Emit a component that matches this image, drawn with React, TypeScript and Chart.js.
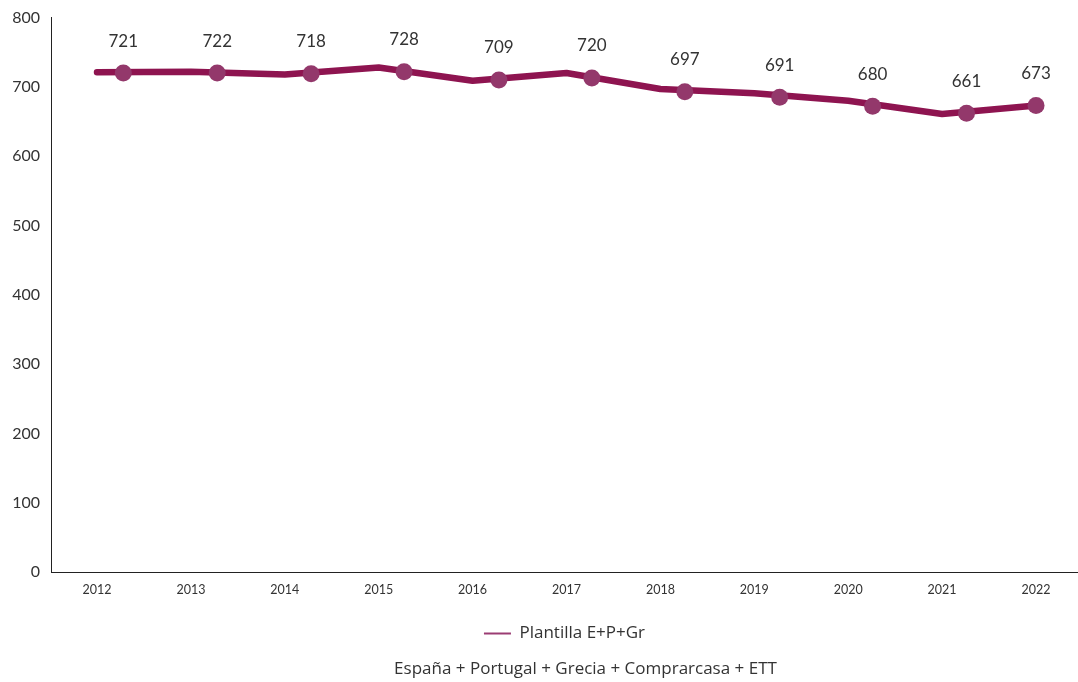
import React, { useEffect, useRef } from "react";
import { Chart, registerables } from "chart.js";

Chart.register(...registerables);

const years = [2012, 2013, 2014, 2015, 2016, 2017, 2018, 2019, 2020, 2021, 2022];
const plantilla = [721, 722, 718, 728, 709, 720, 697, 691, 680, 661, 673];
// marker positions (markers sit slightly right of each year)
const markerX = [2012.28, 2013.28, 2014.28, 2015.27, 2016.28, 2017.27, 2018.26, 2019.27, 2020.26, 2021.26, 2022.0];
const markerY = [720, 720, 719, 722, 710, 713, 693, 685, 672, 662, 673];
const labelValues = [721, 722, 718, 728, 709, 720, 697, 691, 680, 661, 673];
const yTicks = [0, 100, 200, 300, 400, 500, 600, 700, 800];

const seriesName = "Plantilla E+P+Gr";
const subtitle = "España + Portugal + Grecia + Comprarcasa + ETT";

const NUMFONT = "Lato, 'Noto Sans', sans-serif";
const TXTFONT = "'Open Sans', 'Noto Sans', sans-serif";
const TEXT = "#333333";

const labelPlugin = {
  id: "valueLabels",
  afterDatasetsDraw(chart: any) {
    const meta = chart.getDatasetMeta(0);
    const ctx = chart.ctx;
    ctx.save();
    ctx.font = `17px ${NUMFONT}`;
    ctx.fillStyle = TEXT;
    ctx.textAlign = "center";
    ctx.textBaseline = "middle";
    meta.data.forEach((pt: any, i: number) => {
      ctx.fillText(String(labelValues[i]), pt.x, pt.y - 32);
    });
    ctx.restore();
  },
};

const subtitlePlugin = {
  id: "subtitleText",
  afterDraw(chart: any) {
    const ctx = chart.ctx;
    const area = chart.chartArea;
    ctx.save();
    ctx.font = `17px ${TXTFONT}`;
    ctx.fillStyle = TEXT;
    ctx.textAlign = "center";
    ctx.textBaseline = "middle";
    ctx.fillText(subtitle, (area.left + area.right) / 2 + 21, chart.height - 13);
    ctx.restore();
  },
};

export default function App() {
  const ref = useRef<HTMLCanvasElement | null>(null);

  useEffect(() => {
    if (!ref.current) return;
    const chart = new Chart(ref.current, {
      type: "line",
      data: {
        datasets: [
          {
            label: "markers",
            data: markerX.map((x, i) => ({ x, y: markerY[i] })),
            showLine: false,
            pointRadius: 8.5,
            pointHoverRadius: 8.5,
            pointBackgroundColor: "#93386b",
            pointBorderWidth: 0,
            borderColor: "#93386b",
            backgroundColor: "#93386b",
          },
          {
            label: seriesName,
            data: years.map((x, i) => ({ x, y: plantilla[i] })),
            borderColor: "#8e1450",
            backgroundColor: "#93386b",
            borderWidth: 6.5,
            pointRadius: 0,
            tension: 0,
            borderCapStyle: "round",
            borderJoinStyle: "round",
          },
        ],
      },
      options: {
        animation: false,
        responsive: false,
        devicePixelRatio: 1,
        layout: { autoPadding: false, padding: { top: 17.6, left: 0, right: 0, bottom: 30 } },
        scales: {
          x: {
            type: "linear",
            min: 2011.51,
            max: 2022.447,
            afterBuildTicks: (scale: any) => {
              scale.ticks = years.map((v) => ({ value: v }));
            },
            afterFit: (scale: any) => {
              scale.height = 43;
              scale.paddingLeft = 0;
              scale.paddingRight = 0;
            },
            grid: { display: false, drawTicks: false },
            border: { display: true, color: "#222222", width: 1 },
            ticks: {
              padding: 10,
              color: TEXT,
              font: { family: NUMFONT, size: 12.5 },
              maxRotation: 0,
              autoSkip: false,
              callback: (v: any) => String(v),
            },
          },
          y: {
            min: 0,
            max: 800,
            afterBuildTicks: (scale: any) => {
              scale.ticks = yTicks.map((v) => ({ value: v }));
            },
            afterFit: (scale: any) => {
              scale.width = 51;
              scale.paddingTop = 0;
              scale.paddingBottom = 0;
            },
            grid: { display: false, drawTicks: false },
            border: { display: true, color: "#222222", width: 1 },
            ticks: {
              padding: 11,
              color: TEXT,
              font: { family: NUMFONT, size: 16 },
            },
          },
        },
        plugins: {
          tooltip: { enabled: false },
          legend: {
            display: true,
            position: "bottom",
            fullSize: false,
            labels: {
              padding: 10,
              boxWidth: 27,
              boxHeight: 2,
              color: TEXT,
              font: { family: TXTFONT, size: 17 },
              generateLabels: () => [
                {
                  text: seriesName,
                  fillStyle: "#9b3c73",
                  strokeStyle: "#9b3c73",
                  lineWidth: 0,
                  fontColor: TEXT,
                  datasetIndex: 1,
                  hidden: false,
                },
              ],
            },
          },
          title: { display: false },
        },
      },
      plugins: [labelPlugin, subtitlePlugin],
    } as any);
    return () => chart.destroy();
  }, []);

  return (
    <div style={{ position: "absolute", left: 0, top: 0, width: 1078, height: 682, background: "#ffffff" }}>
      <canvas ref={ref} width={1078} height={682} style={{ display: "block", width: 1078, height: 682 }} />
    </div>
  );
}
